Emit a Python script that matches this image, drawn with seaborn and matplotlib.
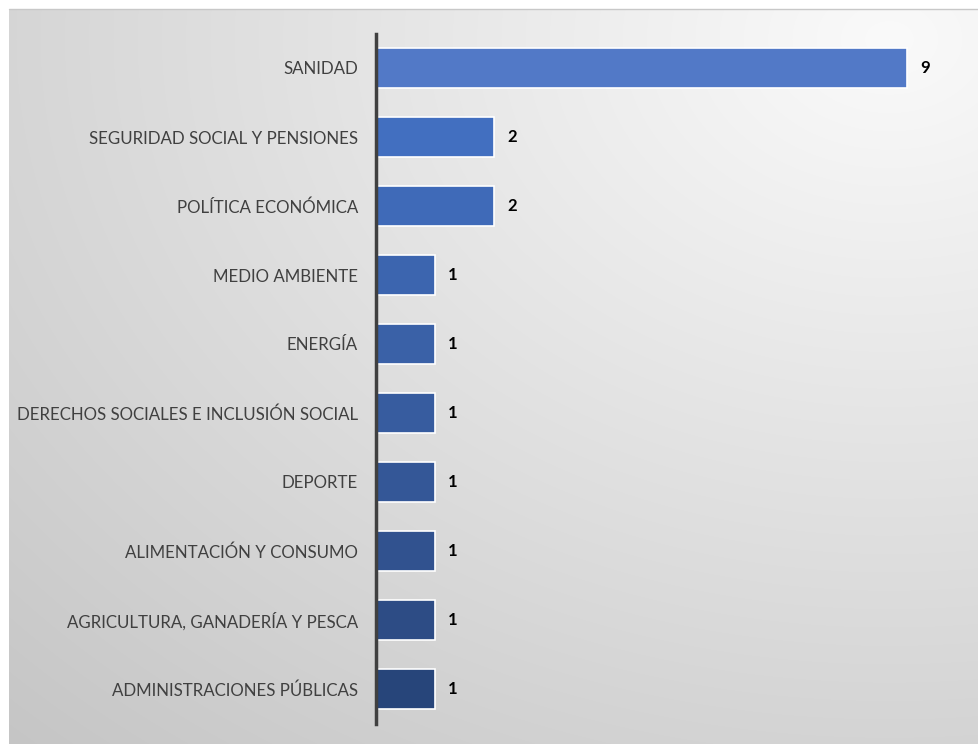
import numpy as np
import pandas as pd
import matplotlib.pyplot as plt
import seaborn as sns

categories = [
    "SANIDAD",
    "SEGURIDAD SOCIAL Y PENSIONES",
    "POLÍTICA ECONÓMICA",
    "MEDIO AMBIENTE",
    "ENERGÍA",
    "DERECHOS SOCIALES E INCLUSIÓN SOCIAL",
    "DEPORTE",
    "ALIMENTACIÓN Y CONSUMO",
    "AGRICULTURA, GANADERÍA Y PESCA",
    "ADMINISTRACIONES PÚBLICAS",
]
counts = [9, 2, 2, 1, 1, 1, 1, 1, 1, 1]

bar_colors = ["#5279C7", "#426FC0", "#3F6AB8", "#3C65AF", "#3A61A7",
              "#375C9F", "#345797", "#31528F", "#2D4C85", "#27457A"]


def main():
    sns.set_style("white")
    plt.rcParams["font.family"] = ["Lato", "DejaVu Sans"]

    W, H = 979, 744
    fig = plt.figure(figsize=(W / 100, H / 100), dpi=100)
    fig.patch.set_facecolor("white")

    # radial grey background panel, light at top right
    bg = fig.add_axes([9 / W, 0, 1 - 9 / W, 1 - 9 / H], zorder=0)
    yy, xx = np.mgrid[0:H - 9, 0:W - 9]
    d = np.hypot((xx - 880) / 970.0, (yy - 30) / 735.0)
    shade = np.clip(250 - 40 * d, 195, 250) / 255.0
    bg.imshow(np.dstack([shade] * 3), aspect="auto", interpolation="bilinear")
    bg.axis("off")
    fig.add_artist(plt.Line2D([9 / W, 1], [1 - 9 / H, 1 - 9 / H],
                              color="#C8C8C8", lw=1, transform=fig.transFigure))

    ax = fig.add_axes([376 / W, 1 - 723.5 / H, (960 - 376) / W, (723.5 - 33.5) / H], zorder=1)
    ax.patch.set_alpha(0)

    df = pd.DataFrame({"tema": categories, "n": counts})
    sns.barplot(data=df, y="tema", x="n", hue="tema", palette=bar_colors,
                saturation=1, legend=False, width=0.58, edgecolor="white",
                linewidth=1.2, ax=ax, orient="h")

    for i, v in enumerate(counts):
        ax.text(v + 0.22, i, str(v), va="center", ha="left",
                fontsize=12, fontweight="bold", color="black")

    ax.set_xlim(0, 9.9)
    ax.set_ylim(9.5, -0.5)
    ax.set_xlabel("")
    ax.set_ylabel("")
    ax.set_xticks([])
    ax.tick_params(axis="y", length=0, pad=13, labelsize=12.2, labelcolor="#404040")
    for s in ["top", "right", "bottom"]:
        ax.spines[s].set_visible(False)
    ax.spines["left"].set_color("#404040")
    ax.spines["left"].set_linewidth(2.5)

    fig.savefig("out.png", dpi=100)


if __name__ == "__main__":
    main()
